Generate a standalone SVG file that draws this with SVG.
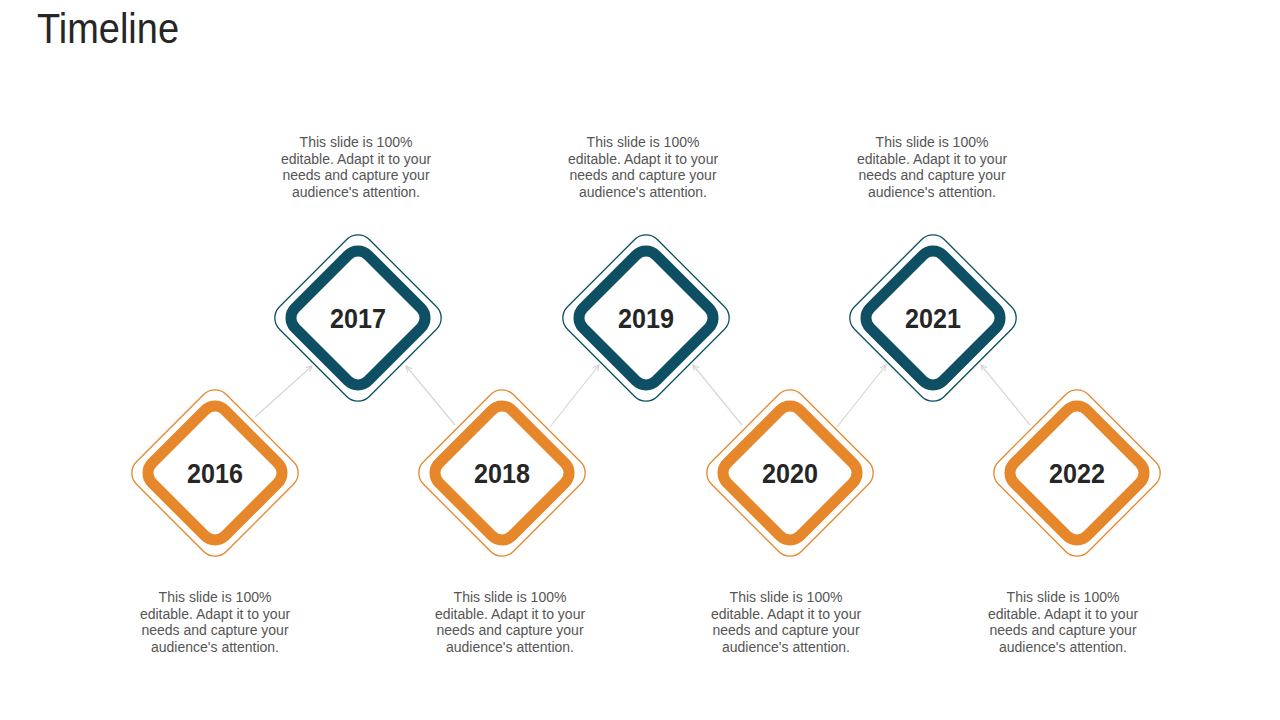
<svg xmlns="http://www.w3.org/2000/svg" width="1280" height="720" viewBox="0 0 1280 720">
<defs>
<style>
.title{font-family:"Liberation Sans",Arial,sans-serif;font-size:42px;fill:#262626}
.year{font-family:"Liberation Sans",Arial,sans-serif;font-weight:bold;font-size:28px;fill:#262626;text-anchor:middle}
.desc{font-family:"Liberation Sans",Arial,sans-serif;font-size:14px;fill:#555555;text-anchor:middle}
.o-thin{fill:none;stroke:#E5872A;stroke-width:1.3}
.o-thick{fill:#ffffff;stroke:#E5872A;stroke-width:11}
.b-thin{fill:none;stroke:#0E4F63;stroke-width:1.3}
.b-thick{fill:#ffffff;stroke:#0E4F63;stroke-width:11}
.conn{stroke:#D6D6D6;stroke-width:1.2;fill:none}
</style>
<marker id="arr" markerWidth="8" markerHeight="8" refX="6" refY="3" orient="auto" markerUnits="userSpaceOnUse">
<path d="M0,0 L6,3 L0,6" fill="none" stroke="#D0D0D0" stroke-width="1"/>
</marker>
</defs>
<rect width="1280" height="720" fill="#ffffff"/>
<text class="title" x="37" y="43" textLength="142" lengthAdjust="spacingAndGlyphs">Timeline</text>

<g id="connectors">
<line class="conn" x1="255" y1="417" x2="312" y2="366" marker-end="url(#arr)"/>
<line class="conn" x1="455" y1="425" x2="406" y2="366" marker-end="url(#arr)"/>
<line class="conn" x1="550" y1="427" x2="599" y2="365" marker-end="url(#arr)"/>
<line class="conn" x1="742" y1="425" x2="693" y2="365" marker-end="url(#arr)"/>
<line class="conn" x1="837" y1="427" x2="886" y2="365" marker-end="url(#arr)"/>
<line class="conn" x1="1030" y1="425" x2="981" y2="365" marker-end="url(#arr)"/>
</g>

<g id="node-2016" transform="translate(215,473)">
<rect class="o-thin" x="-63.5" y="-63.5" width="127" height="127" rx="16" transform="rotate(45)"/>
<rect class="o-thick" x="-51.5" y="-51.5" width="103" height="103" rx="14" transform="rotate(45)"/>
<text class="year" x="0" y="10" textLength="56" lengthAdjust="spacingAndGlyphs">2016</text>
</g>
<g id="node-2017" transform="translate(358,318)">
<rect class="b-thin" x="-63.5" y="-63.5" width="127" height="127" rx="16" transform="rotate(45)"/>
<rect class="b-thick" x="-51.5" y="-51.5" width="103" height="103" rx="14" transform="rotate(45)"/>
<text class="year" x="0" y="10" textLength="56" lengthAdjust="spacingAndGlyphs">2017</text>
</g>
<g id="node-2018" transform="translate(502,473)">
<rect class="o-thin" x="-63.5" y="-63.5" width="127" height="127" rx="16" transform="rotate(45)"/>
<rect class="o-thick" x="-51.5" y="-51.5" width="103" height="103" rx="14" transform="rotate(45)"/>
<text class="year" x="0" y="10" textLength="56" lengthAdjust="spacingAndGlyphs">2018</text>
</g>
<g id="node-2019" transform="translate(646,318)">
<rect class="b-thin" x="-63.5" y="-63.5" width="127" height="127" rx="16" transform="rotate(45)"/>
<rect class="b-thick" x="-51.5" y="-51.5" width="103" height="103" rx="14" transform="rotate(45)"/>
<text class="year" x="0" y="10" textLength="56" lengthAdjust="spacingAndGlyphs">2019</text>
</g>
<g id="node-2020" transform="translate(790,473)">
<rect class="o-thin" x="-63.5" y="-63.5" width="127" height="127" rx="16" transform="rotate(45)"/>
<rect class="o-thick" x="-51.5" y="-51.5" width="103" height="103" rx="14" transform="rotate(45)"/>
<text class="year" x="0" y="10" textLength="56" lengthAdjust="spacingAndGlyphs">2020</text>
</g>
<g id="node-2021" transform="translate(933,318)">
<rect class="b-thin" x="-63.5" y="-63.5" width="127" height="127" rx="16" transform="rotate(45)"/>
<rect class="b-thick" x="-51.5" y="-51.5" width="103" height="103" rx="14" transform="rotate(45)"/>
<text class="year" x="0" y="10" textLength="56" lengthAdjust="spacingAndGlyphs">2021</text>
</g>
<g id="node-2022" transform="translate(1077,473)">
<rect class="o-thin" x="-63.5" y="-63.5" width="127" height="127" rx="16" transform="rotate(45)"/>
<rect class="o-thick" x="-51.5" y="-51.5" width="103" height="103" rx="14" transform="rotate(45)"/>
<text class="year" x="0" y="10" textLength="56" lengthAdjust="spacingAndGlyphs">2022</text>
</g>

<g id="desc-2017"><text class="desc" y="147"><tspan x="356">This slide is 100%</tspan><tspan x="356" dy="16.7">editable. Adapt it to your</tspan><tspan x="356" dy="16.7">needs and capture your</tspan><tspan x="356" dy="16.7">audience's attention.</tspan></text></g>
<g id="desc-2019"><text class="desc" y="147"><tspan x="643">This slide is 100%</tspan><tspan x="643" dy="16.7">editable. Adapt it to your</tspan><tspan x="643" dy="16.7">needs and capture your</tspan><tspan x="643" dy="16.7">audience's attention.</tspan></text></g>
<g id="desc-2021"><text class="desc" y="147"><tspan x="932">This slide is 100%</tspan><tspan x="932" dy="16.7">editable. Adapt it to your</tspan><tspan x="932" dy="16.7">needs and capture your</tspan><tspan x="932" dy="16.7">audience's attention.</tspan></text></g>
<g id="desc-2016"><text class="desc" y="602"><tspan x="215">This slide is 100%</tspan><tspan x="215" dy="16.7">editable. Adapt it to your</tspan><tspan x="215" dy="16.7">needs and capture your</tspan><tspan x="215" dy="16.7">audience's attention.</tspan></text></g>
<g id="desc-2018"><text class="desc" y="602"><tspan x="510">This slide is 100%</tspan><tspan x="510" dy="16.7">editable. Adapt it to your</tspan><tspan x="510" dy="16.7">needs and capture your</tspan><tspan x="510" dy="16.7">audience's attention.</tspan></text></g>
<g id="desc-2020"><text class="desc" y="602"><tspan x="786">This slide is 100%</tspan><tspan x="786" dy="16.7">editable. Adapt it to your</tspan><tspan x="786" dy="16.7">needs and capture your</tspan><tspan x="786" dy="16.7">audience's attention.</tspan></text></g>
<g id="desc-2022"><text class="desc" y="602"><tspan x="1063">This slide is 100%</tspan><tspan x="1063" dy="16.7">editable. Adapt it to your</tspan><tspan x="1063" dy="16.7">needs and capture your</tspan><tspan x="1063" dy="16.7">audience's attention.</tspan></text></g>
</svg>
